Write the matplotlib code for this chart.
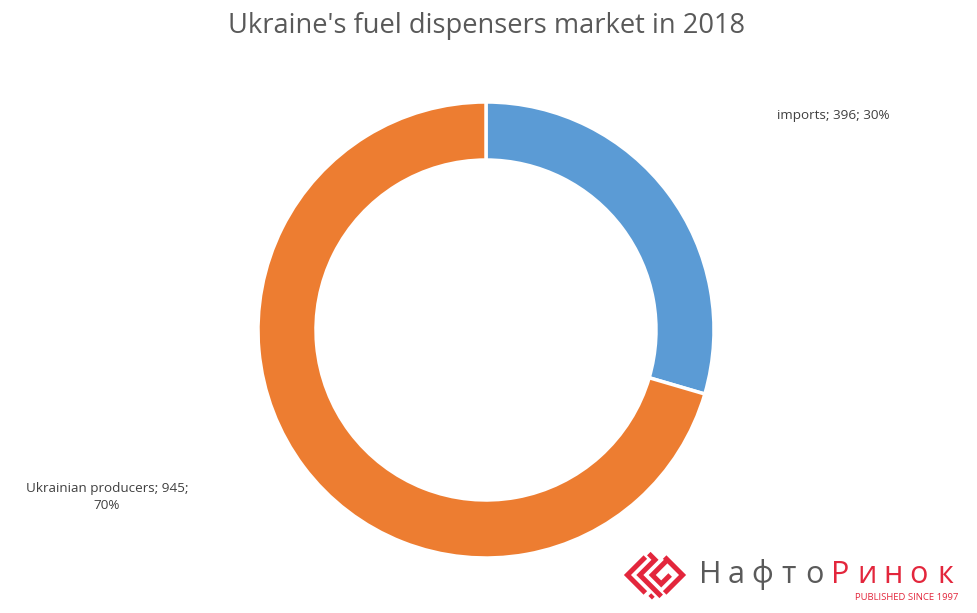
import numpy as np
import matplotlib.pyplot as plt

plt.rcParams['font.family'] = ['Open Sans', 'DejaVu Sans']

labels = ['imports', 'Ukrainian producers']
values = [396, 945]
shares = [30, 70]
colors = ['#5B9BD5', '#ED7D31']

W, H = 977, 613
fig = plt.figure(figsize=(W / 100, H / 100), dpi=100)
ax = fig.add_axes([0, 0, 1, 1])

ax.pie(values, colors=colors, startangle=90, counterclock=False,
       center=(486, H - 330), radius=228, frame=True,
       wedgeprops=dict(width=58, edgecolor='white', linewidth=2.5))
ax.set_xlim(0, W)
ax.set_ylim(0, H)
ax.set_aspect('equal')
ax.axis('off')

ax.text(486, H - 26, "Ukraine's fuel dispensers market in 2018", ha='center', va='center',
        fontsize=19.6, color='#595959')

ax.text(833, H - 115, f'{labels[0]}; {values[0]}; {shares[0]}%', ha='center', va='center',
        fontsize=9.7, color='#404040')
ax.text(107, H - 497, f'{labels[1]}; {values[1]};\n{shares[1]}%', ha='center', va='center',
        fontsize=9.7, color='#404040', linespacing=1.35)

# logo: diamond maze icon (drawn in a unit square, rotated 45 degrees)
red = '#E3263C'
cx, cy, s = 655, H - 575, 19.5
paths = [
    [(-1, -0.3), (-1, 1), (0.3, 1)],
    [(1, 0.3), (1, -1), (-0.3, -1)],
    [(-0.55, -1), (-0.55, 0.55), (0.55, 0.55), (0.55, 1)],
    [(0.55, -0.55), (-0.1, -0.55), (-0.1, 0.1), (1, 0.1)],
    [(-1, -0.65), (-0.8, -0.65)],
]
ang = np.deg2rad(45)
for p in paths:
    p = np.array(p, dtype=float)
    x = cx + s * (p[:, 0] * np.cos(ang) - p[:, 1] * np.sin(ang))
    y = cy + s * (p[:, 0] * np.sin(ang) + p[:, 1] * np.cos(ang))
    ax.plot(x, y, color=red, linewidth=3.6, solid_joinstyle='miter', solid_capstyle='butt')

brand = 'НафтоРинок'
x0, step = 697, 26.1
for i, ch in enumerate(brand):
    ax.text(x0 + step * (i + 0.5), H - 575, ch, ha='center', va='center',
            fontsize=22, color='#5a5a5a' if i < 5 else red)
ax.text(958, H - 597, 'PUBLISHED SINCE 1997', ha='right', va='center', fontsize=6.8,
        color=red)

fig.savefig('out.png', dpi=100)
